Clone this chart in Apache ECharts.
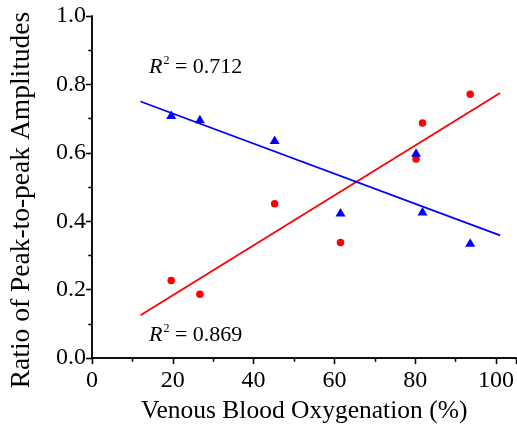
<!DOCTYPE html>
<html>
<head>
<meta charset="utf-8">
<script src="https://cdn.jsdelivr.net/npm/echarts@6/dist/echarts.min.js"></script>
<style>
  html, body { margin: 0; padding: 0; background: #fff; }
  #chart { width: 517px; height: 429px; }
</style>
</head>
<body>
<div id="chart"></div>
<script>
// values
var oxygenation = [19.6, 26.7, 45.2, 61.5, 80.2, 81.8, 93.6];
var redRatio = [0.227, 0.187, 0.451, 0.338, 0.582, 0.687, 0.771];
var blueOxygenation = [19.6, 26.7, 45.2, 61.5, 80.2, 81.8, 93.6];
var blueRatio = [0.711, 0.699, 0.638, 0.426, 0.601, 0.429, 0.338];

// linear fit end points
var fitX = [12, 101];
var redFit = [0.125, 0.775];
var blueFit = [0.750, 0.359];

var redR2 = '0.869';
var blueR2 = '0.712';

function pairs(xs, ys) {
    return xs.map(function (x, i) { return [x, ys[i]]; });
}

var FONT = '"Liberation Serif", "Times New Roman", serif';
var chart = echarts.init(document.getElementById('chart'));

var axisLine = { lineStyle: { color: '#000', width: 1.5 } };

function r2Label(val) {
    return {
        type: 'text',
        style: {
            text: '{r|R}{s|2}{t| = ' + val + '}',
            fontFamily: FONT,
            fontSize: 22,
            fill: '#000',
            rich: {
                r: { fontFamily: FONT, fontSize: 22, fontStyle: 'italic', fill: '#000', lineHeight: 24 },
                s: { fontFamily: FONT, fontSize: 12, fill: '#000', verticalAlign: 'top', lineHeight: 14, padding: [0, 0, 0, 1] },
                t: { fontFamily: FONT, fontSize: 22, fill: '#000', lineHeight: 24 }
            }
        }
    };
}

var t1 = r2Label(blueR2); t1.left = 149; t1.top = 55;
var t2 = r2Label(redR2); t2.left = 149; t2.top = 323;

chart.setOption({
    backgroundColor: '#fff',
    animation: false,
    grid: { left: 91, top: 16, width: 428.5, height: 343 },
    xAxis: [{
        type: 'value',
        min: 0, max: 105, interval: 20,
        name: 'Venous Blood Oxygenation (%)',
        nameLocation: 'middle',
        nameGap: 39,
        nameTextStyle: { fontFamily: FONT, fontSize: 25.5, color: '#000' },
        axisLine: axisLine,
        axisTick: { show: true, inside: false, length: 6, lineStyle: { color: '#000', width: 1.3 } },
        minorTick: { show: true, splitNumber: 2, length: 3.5, lineStyle: { color: '#000', width: 1.3 } },
        axisLabel: { fontFamily: FONT, fontSize: 24, color: '#000', margin: 11, showMaxLabel: false },
        splitLine: { show: false }
    }, {
        type: 'value',
        position: 'top',
        min: 0, max: 105, interval: 20,
        axisLine: axisLine,
        axisTick: { show: true, inside: true, length: 6, lineStyle: { color: '#000', width: 1.3 } },
        minorTick: { show: true, splitNumber: 2, length: 3.5, lineStyle: { color: '#000', width: 1.3 } },
        axisLabel: { show: false },
        splitLine: { show: false }
    }],
    yAxis: [{
        type: 'value',
        min: 0, max: 1, interval: 0.2,
        name: 'Ratio of Peak-to-peak Amplitudes',
        nameLocation: 'middle',
        nameGap: 56,
        nameTextStyle: { fontFamily: FONT, fontSize: 27.5, color: '#000', padding: [0, 26, 0, 0] },
        axisLine: axisLine,
        axisTick: { show: true, inside: false, length: 6, lineStyle: { color: '#000', width: 1.3 } },
        minorTick: { show: true, splitNumber: 2, length: 3.5, lineStyle: { color: '#000', width: 1.3 } },
        axisLabel: {
            fontFamily: FONT, fontSize: 24, color: '#000', margin: 6,
            formatter: function (v) { return v.toFixed(1); }
        },
        splitLine: { show: false }
    }, {
        type: 'value',
        position: 'right',
        min: 0, max: 1, interval: 0.2,
        axisLine: axisLine,
        axisTick: { show: true, inside: true, length: 6, lineStyle: { color: '#000', width: 1.3 } },
        minorTick: { show: true, splitNumber: 2, length: 3.5, lineStyle: { color: '#000', width: 1.3 } },
        axisLabel: { show: false },
        splitLine: { show: false }
    }],
    graphic: [t1, t2],
    series: [{
        name: 'red fit',
        type: 'line',
        data: pairs(fitX, redFit),
        symbol: 'none',
        lineStyle: { color: '#ff0000', width: 1.8 },
        z: 2
    }, {
        name: 'blue fit',
        type: 'line',
        data: pairs(fitX, blueFit),
        symbol: 'none',
        lineStyle: { color: '#0000ff', width: 1.8 },
        z: 2
    }, {
        name: 'red',
        type: 'scatter',
        data: pairs(oxygenation, redRatio),
        symbol: 'circle',
        symbolSize: 7.5,
        itemStyle: { color: '#ff0000', opacity: 1 },
        z: 3
    }, {
        name: 'blue',
        type: 'scatter',
        data: pairs(blueOxygenation, blueRatio),
        symbol: 'triangle',
        symbolSize: [10, 8.5],
        itemStyle: { color: '#0000ff', opacity: 1 },
        z: 4
    }]
});
</script>
</body>
</html>
